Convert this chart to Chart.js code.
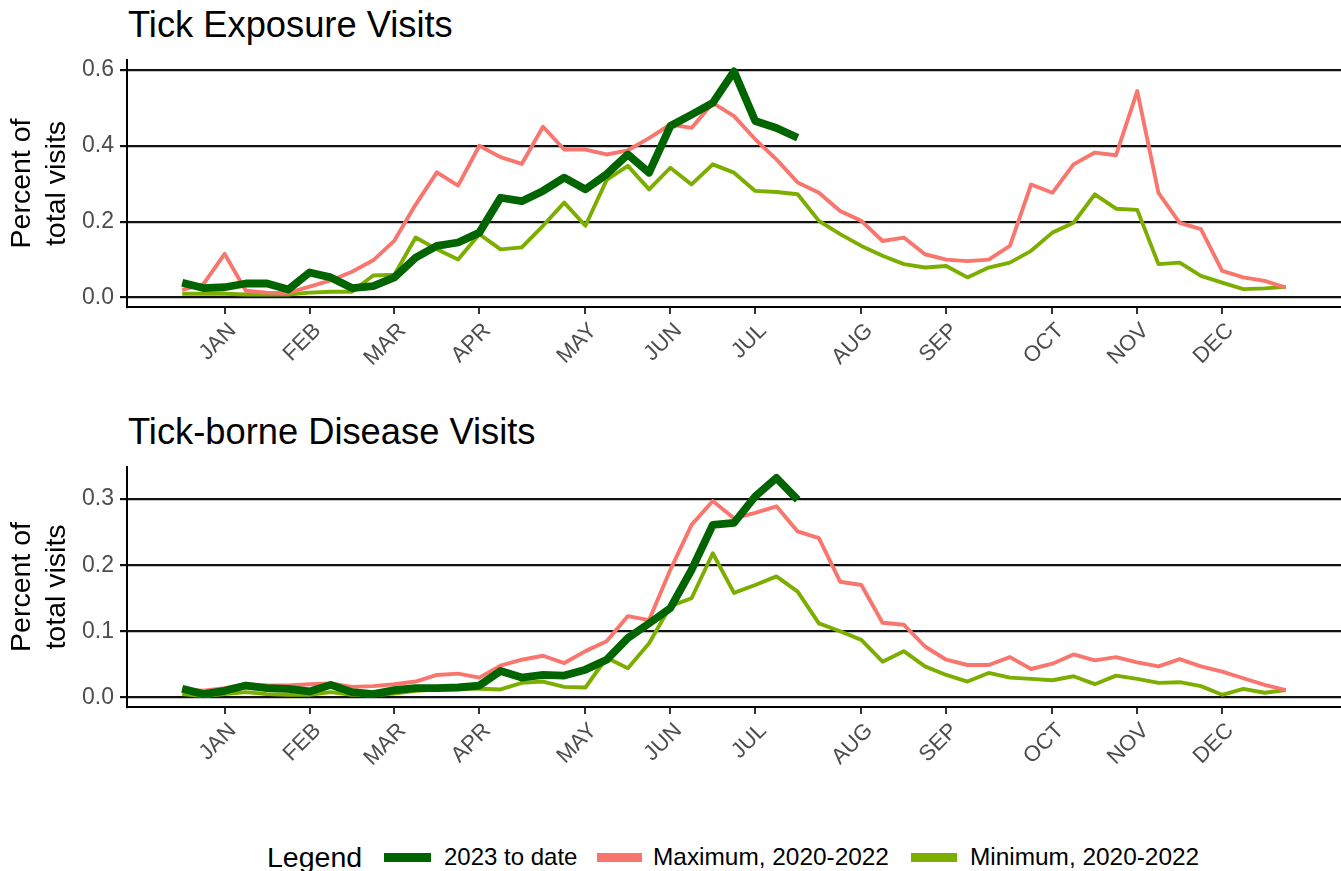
<!DOCTYPE html>
<html><head><meta charset="utf-8">
<script src="https://cdn.jsdelivr.net/npm/chart.js@4.4.0/dist/chart.umd.min.js"></script>
<style>
body{margin:0;background:#fff;width:1341px;height:871px;overflow:hidden;position:relative;font-family:"Liberation Sans",Arial,sans-serif;}
.title{position:absolute;left:128px;font-size:36.3px;line-height:36px;color:#000;white-space:nowrap;}
canvas{position:absolute;left:0;}
.lg{position:absolute;white-space:nowrap;color:#000;}
.key{position:absolute;height:9px;top:853px;}
</style></head><body>
<div class="title" style="top:7px">Tick Exposure Visits</div>
<div class="title" style="top:414px">Tick-borne Disease Visits</div>
<canvas id="c1" width="1341" height="400" style="top:0;width:1341px;height:400px"></canvas>
<canvas id="c2" width="1341" height="400" style="top:420px;width:1341px;height:400px"></canvas>
<div class="lg" style="left:267px;top:842px;font-size:28.5px;line-height:30px">Legend</div>
<div class="key" style="left:384px;width:47px;background:#006400"></div>
<div class="lg lbl" style="left:444px;top:845px;font-size:24px;line-height:24px">2023 to date</div>
<div class="key" style="left:597px;width:45px;background:#F8766D"></div>
<div class="lg lbl" style="left:653px;top:845px;font-size:24.4px;line-height:24px">Maximum, 2020-2022</div>
<div class="key" style="left:911px;width:46px;background:#7CAE00"></div>
<div class="lg lbl" style="left:970px;top:845px;font-size:24.4px;line-height:24px">Minimum, 2020-2022</div>
<script>
// ---- data ----
const seriesNames = ['2023 to date', 'Maximum, 2020-2022', 'Minimum, 2020-2022'];
const monthWeeks = [2, 6, 10, 14, 19, 23, 27, 32, 36, 41, 45, 49];
const monthLabels = ['JAN','FEB','MAR','APR','MAY','JUN','JUL','AUG','SEP','OCT','NOV','DEC'];
const yTicksExposure = [0, 0.2, 0.4, 0.6];
const yTicksDisease = [0, 0.1, 0.2, 0.3];

const exposure2023 = [0.039,0.025,0.027,0.037,0.037,0.021,0.066,0.053,0.025,0.030,
  0.053,0.105,0.136,0.145,0.171,0.263,0.254,0.281,0.316,0.285,
  0.325,0.377,0.329,0.452,0.482,0.513,0.596,0.465,0.447,0.421];
const exposureMax = [0.020,0.035,0.115,0.018,0.013,0.012,0.029,0.045,0.068,0.098,
  0.150,0.245,0.330,0.295,0.400,0.370,0.352,0.450,0.390,0.390,
  0.377,0.388,0.420,0.456,0.447,0.513,0.478,0.417,0.364,0.303,
  0.276,0.228,0.202,0.149,0.158,0.114,0.100,0.096,0.100,0.136,
  0.298,0.276,0.351,0.382,0.375,0.544,0.276,0.197,0.180,0.070,
  0.053,0.044,0.026];
const exposureMin = [0.010,0.010,0.010,0.008,0.008,0.008,0.013,0.015,0.015,0.058,
  0.060,0.158,0.127,0.100,0.167,0.127,0.132,0.189,0.250,0.189,
  0.310,0.347,0.285,0.342,0.298,0.351,0.329,0.281,0.278,0.272,
  0.202,0.167,0.136,0.110,0.088,0.079,0.083,0.053,0.079,0.092,
  0.123,0.171,0.197,0.272,0.234,0.231,0.088,0.092,0.057,0.039,
  0.022,0.024,0.028];

const disease2023 = [0.013,0.005,0.010,0.018,0.014,0.013,0.009,0.019,0.008,0.005,
  0.011,0.014,0.014,0.015,0.018,0.040,0.030,0.034,0.033,0.042,
  0.057,0.090,0.112,0.135,0.193,0.261,0.264,0.304,0.332,0.299];
const diseaseMax = [0.012,0.010,0.014,0.020,0.018,0.018,0.020,0.021,0.016,0.017,
  0.020,0.024,0.034,0.036,0.030,0.048,0.057,0.063,0.052,0.070,
  0.085,0.123,0.117,0.193,0.261,0.297,0.271,0.279,0.289,0.251,
  0.241,0.175,0.170,0.113,0.110,0.077,0.057,0.049,0.049,0.061,
  0.043,0.051,0.065,0.056,0.061,0.053,0.047,0.058,0.047,0.039,
  0.029,0.019,0.011];
const diseaseMin = [0.005,0.002,0.005,0.008,0.005,0.004,0.004,0.008,0.004,0.003,
  0.006,0.010,0.012,0.013,0.013,0.012,0.022,0.024,0.016,0.015,
  0.060,0.044,0.082,0.138,0.150,0.218,0.158,0.170,0.183,0.160,
  0.112,0.100,0.087,0.054,0.070,0.047,0.034,0.024,0.037,0.030,
  0.028,0.026,0.032,0.020,0.033,0.028,0.022,0.023,0.017,0.004,
  0.013,0.007,0.011];

// ---- styles ----
const colors = ['#006400', '#F8766D', '#7CAE00'];
const widths = [7.8, 3.9, 3.9];
const FONT = '"Liberation Sans", Arial, sans-serif';

function toXY(arr){ return arr.map((v,i)=>({x:i, y:v})); }

function makeChart(id, s2023, sMax, sMin, yTicks, yMin, yMax, padTop, xHeight){
  const sets = [s2023, sMax, sMin];
  return new Chart(document.getElementById(id), {
    type: 'line',
    data: {
      datasets: sets.map((s,k)=>({
        label: seriesNames[k],
        data: toXY(s),
        borderColor: colors[k],
        backgroundColor: colors[k],
        borderWidth: widths[k],
        pointRadius: 0,
        tension: 0,
        borderJoinStyle: 'round',
        fill: false,
        order: k
      }))
    },
    options: {
      responsive: false,
      animation: false,
      devicePixelRatio: 1,
      layout: { padding: { top: padTop, left: 0, right: 0, bottom: 0 } },
      plugins: { legend: { display: false }, tooltip: { enabled: false }, title: { display: false } },
      scales: {
        x: {
          type: 'linear', min: -2.6, max: 54.6,
          afterBuildTicks: (sc) => { sc.ticks = monthWeeks.map(v => ({ value: v })); },
          afterFit: (sc) => { sc.height = xHeight; },
          ticks: {
            autoSkip: false, maxRotation: 45, minRotation: 45,
            color: '#4D4D4D', font: { family: FONT, size: 22 }, padding: 4, labelOffset: 8,
            callback: (v) => { const i = monthWeeks.indexOf(v); return i >= 0 ? monthLabels[i] : ''; }
          },
          grid: { display: true, drawOnChartArea: false, drawTicks: true, tickLength: 7, color: '#333', lineWidth: 2 },
          border: { display: true, color: '#000', width: 2 }
        },
        y: {
          type: 'linear', min: yMin, max: yMax,
          afterBuildTicks: (sc) => { sc.ticks = yTicks.map(v => ({ value: v })); },
          afterFit: (sc) => { sc.width = 127; },
          ticks: { color: '#4D4D4D', font: { family: FONT, size: 23 }, padding: 6,
                   callback: (v) => Number(v).toFixed(1) },
          grid: { display: true, drawTicks: true, tickLength: 7, color: '#111', lineWidth: 2.2 },
          border: { display: true, color: '#000', width: 2 },
          title: { display: true, text: ['Percent of', 'total visits'], color: '#000',
                   font: { family: FONT, size: 28.5, lineHeight: 1.22 }, padding: { top: 4.6, bottom: 0 } }
        }
      }
    }
  });
}

makeChart('c1', exposure2023, exposureMax, exposureMin, yTicksExposure, -0.025, 0.626, 60, 93);
makeChart('c2', disease2023, diseaseMax, diseaseMin, yTicksDisease, -0.0145, 0.3485, 47, 113);
</script>
</body></html>
